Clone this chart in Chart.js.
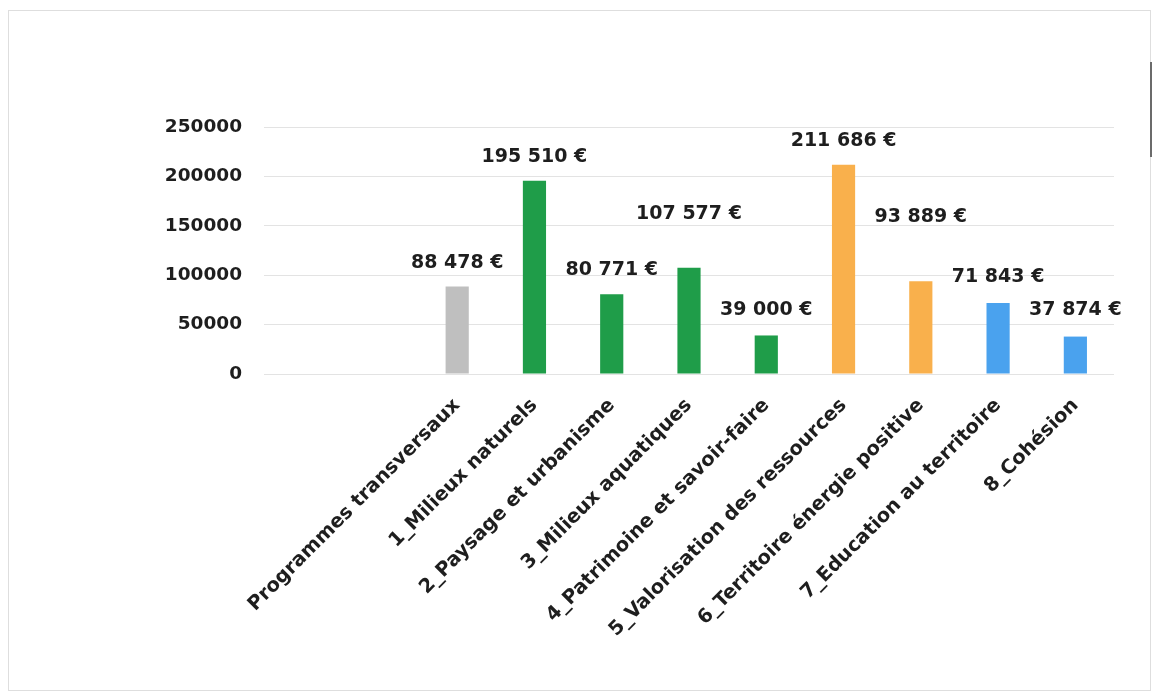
<!DOCTYPE html>
<html>
<head>
<meta charset="utf-8">
<script src="https://cdn.jsdelivr.net/npm/chart.js@4"></script>
<style>
  body { margin: 0; background: #fff; }
  #wrap { position: relative; width: 1155px; height: 695px; }
  #frame {
    position: absolute; left: 8px; top: 10px; width: 1141px; height: 679px;
    border: 1px solid #dedede; pointer-events: none;
  }
  #edge {
    position: absolute; left: 1150px; top: 62px; width: 2px; height: 95px;
    background: #6b6b6b; pointer-events: none;
  }
</style>
</head>
<body>
<div id="wrap">
  <canvas id="myChart" width="1155" height="695"></canvas>
  <div id="frame"></div>
  <div id="edge"></div>
</div>
<script>
// two empty slots come first on the axis
const categories = [
  "",
  "",
  "Programmes transversaux",
  "1_Milieux naturels",
  "2_Paysage et urbanisme",
  "3_Milieux aquatiques",
  "4_Patrimoine et savoir-faire",
  "5_Valorisation des ressources",
  "6_Territoire énergie positive",
  "7_Education au territoire",
  "8_Cohésion",
];
const montants = [null, null, 88478, 195510, 80771, 107577, 39000, 211686, 93889, 71843, 37874];
const yTicks = [0, 50000, 100000, 150000, 200000, 250000];

const gris = "#bfbfbf";
const vert = "#1f9d49";
const orange = "#f9b04c";
const bleu = "#4aa2ee";
const barColors = [gris, gris, gris, vert, vert, vert, vert, orange, orange, bleu, bleu];

// how far each value label sits above its bar (px)
const labelLift = [0, 0, 24, 24, 24, 54, 25, 24, 64, 26, 27];

const FONT = "'DejaVu Sans', sans-serif";
const TEXT = "#1e1e1e";

function euros(v) {
  return String(v).replace(/\B(?=(\d{3})+(?!\d))/g, " ") + " €";
}

const valueLabels = {
  id: "valueLabels",
  afterDatasetsDraw(chart) {
    const ctx = chart.ctx;
    const meta = chart.getDatasetMeta(0);
    ctx.save();
    ctx.font = "bold 19px " + FONT;
    ctx.fillStyle = TEXT;
    ctx.textAlign = "center";
    ctx.textBaseline = "middle";
    meta.data.forEach((bar, i) => {
      if (montants[i] == null) return;
      ctx.fillText(euros(montants[i]), bar.x, bar.y - labelLift[i]);
    });
    ctx.restore();
  },
};

const ctx = document.getElementById("myChart");

new Chart(ctx, {
  type: "bar",
  data: {
    labels: categories,
    datasets: [
      {
        data: montants,
        backgroundColor: barColors,
        barPercentage: 0.3,
        categoryPercentage: 1,
      },
    ],
  },
  options: {
    responsive: false,
    animation: false,
    layout: {
      padding: { top: 127, right: 41, left: 0, bottom: 0 },
    },
    scales: {
      x: {
        grid: { display: false },
        border: { display: false },
        ticks: {
          color: TEXT,
          font: { family: FONT, weight: "bold", size: 19.5 },
          minRotation: 45,
          maxRotation: 45,
          autoSkip: false,
          padding: 12,
        },
        afterFit(scale) {
          scale.height = 321;
        },
      },
      y: {
        min: 0,
        max: 250000,
        afterBuildTicks(scale) {
          scale.ticks = yTicks.map((v) => ({ value: v }));
        },
        grid: { color: "#e3e3e3", drawTicks: false },
        border: { display: false },
        ticks: {
          color: TEXT,
          font: { family: FONT, weight: "bold", size: 18.5 },
          padding: 22,
          callback: (v) => String(v),
        },
        afterFit(scale) {
          scale.width = 264;
        },
      },
    },
    plugins: {
      legend: { display: false },
      tooltip: { enabled: false },
    },
  },
  plugins: [valueLabels],
});
</script>
</body>
</html>
